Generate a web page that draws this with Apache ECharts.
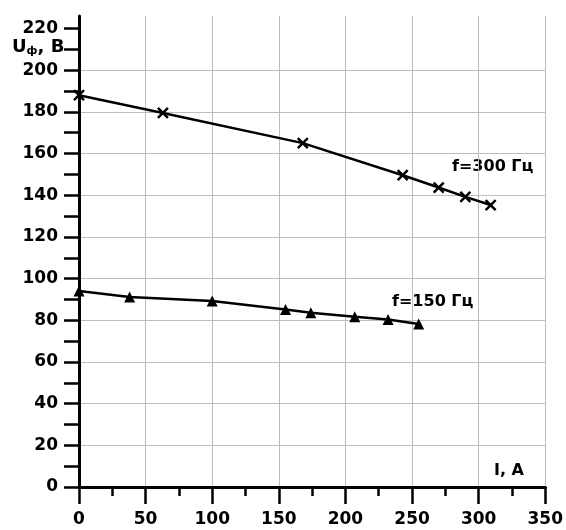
<!DOCTYPE html>
<html lang="ru">

<head>
    <meta charset="UTF-8">
    <title>U(I)</title>
    <script src="https://cdn.jsdelivr.net/npm/echarts@6/dist/echarts.min.js"></script>
    <style>
        html, body { margin: 0; padding: 0; background: #fff; }
        #chart { width: 566px; height: 530px; }
    </style>
</head>

<body>
    <div id="chart"></div>
    <script>
        // данные с графика
        const i300 = [0, 63, 168, 243, 270, 290, 309];
        const u300 = [188, 179.5, 165, 149.6, 143.7, 139.2, 135.3];
        const i150 = [0, 38, 100, 155, 174, 207, 232, 255];
        const u150 = [94, 91.2, 89.2, 85.2, 83.6, 81.7, 80.4, 78.2];
        const yLabels = [0, 20, 40, 60, 80, 100, 120, 140, 160, 180, 200, 220];
        const yTicks = [0, 10, 20, 30, 40, 50, 60, 70, 80, 90, 100, 110, 120, 130, 140, 150, 160, 170, 180, 190, 200, 210, 220];

        const font = 'DejaVu Sans';
        const pairs = (xs, ys) => xs.map((x, k) => [x, ys[k]]);

        let chart = echarts.init(document.getElementById('chart'));
        chart.setOption({
            animation: false,
            backgroundColor: '#fff',
            grid: { left: 79, right: 15, top: 16, bottom: 43 },
            xAxis: {
                type: 'value',
                min: 0,
                max: 350,
                interval: 50,
                axisLine: { lineStyle: { color: '#000', width: 3 } },
                axisTick: { length: 17, lineStyle: { color: '#000', width: 2.5 } },
                minorTick: { show: true, splitNumber: 2, length: 9, lineStyle: { color: '#000', width: 2.5 } },
                axisLabel: { margin: 24, color: '#000', fontFamily: font, fontWeight: 'bold', fontSize: 17 },
                splitLine: { show: true, lineStyle: { color: '#bdbdbd', width: 1 } }
            },
            yAxis: {
                type: 'value',
                min: 0,
                max: 226,
                interval: 20,
                axisLine: { lineStyle: { color: '#000', width: 3 } },
                axisTick: { length: 15, customValues: yTicks, lineStyle: { color: '#000', width: 2.5 } },
                axisLabel: { margin: 21, customValues: yLabels, color: '#000', fontFamily: font, fontWeight: 'bold', fontSize: 17 },
                // линии сетки только через 20
                splitLine: { show: true, showMaxLine: false, lineStyle: { color: ['#bdbdbd', 'rgba(0,0,0,0)'], width: 1 } }
            },
            graphic: [
                { type: 'text', left: 452, top: 159, style: { text: 'f=300 Гц', fill: '#000', font: 'bold 16px ' + font } },
                { type: 'text', left: 392, top: 294, style: { text: 'f=150 Гц', fill: '#000', font: 'bold 16px ' + font } },
                { type: 'text', left: 494, top: 463, style: { text: 'I, A', fill: '#000', font: 'bold 16px ' + font } },
                {
                    type: 'text', left: 12, top: 38,
                    style: {
                        text: '{u|U}{s|ф}{u|, B}',
                        rich: {
                            u: { fontFamily: font, fontWeight: 'bold', fontSize: 18, fill: '#000' },
                            s: { fontFamily: font, fontWeight: 'bold', fontSize: 11, fill: '#000', padding: [9, 0, 0, 0] }
                        }
                    }
                }
            ],
            series: [{
                type: 'line',
                data: pairs(i300, u300),
                symbol: 'path://M0,0L10,10M0,10L10,0',
                symbolSize: 10,
                lineStyle: { color: '#000', width: 2.5 },
                itemStyle: { color: '#000', borderColor: '#000', borderWidth: 2.5 }
            }, {
                type: 'line',
                data: pairs(i150, u150),
                symbol: 'triangle',
                symbolSize: 11,
                lineStyle: { color: '#000', width: 2.5 },
                itemStyle: { color: '#000' }
            }]
        });
    </script>
</body>

</html>
